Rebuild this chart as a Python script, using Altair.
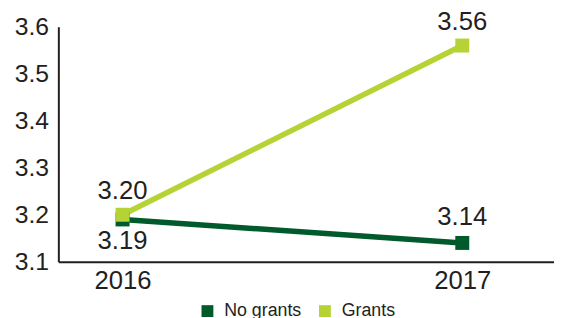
import altair as alt
import pandas as pd

years = [2016, 2017]
no_grants = [3.19, 3.14]
grants = [3.20, 3.56]
series_names = ["No grants", "Grants"]
colors = ["#005a2b", "#b5d334"]
y_ticks = [3.1, 3.2, 3.3, 3.4, 3.5, 3.6]

rows = []
for name, vals in zip(series_names, [no_grants, grants]):
    for y, v in zip(years, vals):
        rows.append({"year": y, "value": v, "series": name, "label": f"{v:.2f}"})
df = pd.DataFrame(rows)

FONT = "Liberation Sans"
TXT = "#231f20"

x = alt.X("year:Q", scale=alt.Scale(domain=[2015.811, 2017.27], nice=False, zero=False),
          axis=alt.Axis(values=years, format="d", title=None, ticks=False, grid=False,
                        labelFontSize=26, labelFont=FONT, labelColor=TXT, labelPadding=6,
                        domainColor="#231f20", domainWidth=2))
y = alt.Y("value:Q", scale=alt.Scale(domain=[3.1, 3.6], nice=False, zero=False),
          axis=alt.Axis(values=y_ticks, format=".1f", title=None,
                        ticks=False, grid=False, labelFontSize=25, labelFont=FONT,
                        labelColor=TXT, labelPadding=10, domainColor="#231f20", domainWidth=2))
color = alt.Color("series:N", scale=alt.Scale(domain=series_names, range=colors),
                  legend=alt.Legend(title=None, orient="none", direction="horizontal",
                                    legendX=142, legendY=279, symbolType="square",
                                    symbolSize=144, symbolStrokeWidth=0, labelFontSize=18,
                                    labelFont=FONT, labelColor=TXT, columnPadding=14,
                                    labelOffset=8, symbolOpacity=1))

base = alt.Chart(df)
lines = base.mark_line(strokeWidth=5.5).encode(x=x, y=y, color=color)
points = base.mark_point(shape="square", filled=True, size=200, opacity=1).encode(
    x=x, y=y, color=alt.Color("series:N", scale=alt.Scale(domain=series_names, range=colors), legend=None))

tcommon = dict(fontSize=26, font=FONT, color=TXT)
t_g16 = base.transform_filter((alt.datum.series == "Grants") & (alt.datum.year == 2016)).mark_text(
    dy=-24, **tcommon).encode(x=x, y=y, text="label:N")
t_g17 = base.transform_filter((alt.datum.series == "Grants") & (alt.datum.year == 2017)).mark_text(
    dy=-24, **tcommon).encode(x=x, y=y, text="label:N")
t_ng16 = base.transform_filter((alt.datum.series == "No grants") & (alt.datum.year == 2016)).mark_text(
    dy=22, **tcommon).encode(x=x, y=y, text="label:N")
t_ng17 = base.transform_filter((alt.datum.series == "No grants") & (alt.datum.year == 2017)).mark_text(
    dy=-26, **tcommon).encode(x=x, y=y, text="label:N")

chart = alt.layer(lines, points, t_g16, t_g17, t_ng16, t_ng17).properties(
    width=502, height=238,
    autosize=alt.AutoSizeParams(type="none"),
    padding={"left": 51, "top": 17, "right": 0, "bottom": 55},
    background="white",
).configure_view(stroke=None)

chart.save("out.html", embed_options={"renderer": "svg", "actions": False})
